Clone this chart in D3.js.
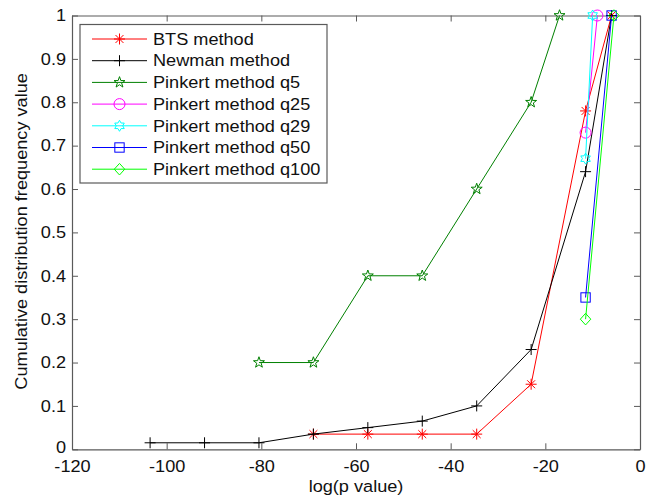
<!DOCTYPE html>
<html>
<head>
<meta charset="utf-8">
<script src="https://cdn.jsdelivr.net/npm/d3@7"></script>
<style>
  html, body { margin: 0; padding: 0; background: #fff; }
  svg { display: block; font-family: Arial, "Liberation Sans", sans-serif; }
</style>
</head>
<body>
<svg id="chart" width="655" height="499"></svg>
<script>
// Cumulative distribution of log(p value) for each detection method
const btsX = [-69, -57.5, -46, -34.5, -23, -11.5, -6];
const btsY = [0.035, 0.035, 0.035, 0.035, 0.15, 0.78, 1];

const newmanX = [-103.5, -92, -80.5, -69, -57.5, -46, -34.5, -23, -11.5, -6];
const newmanY = [0.015, 0.015, 0.015, 0.035, 0.05, 0.065, 0.1, 0.23, 0.64, 1];

const q5X = [-80.5, -69, -57.5, -46, -34.5, -23, -17];
const q5Y = [0.2, 0.2, 0.4, 0.4, 0.6, 0.8, 1];

const q25X = [-11.5, -9];
const q25Y = [0.73, 1];

const q29X = [-11.5, -10];
const q29Y = [0.67, 1];

const q50X = [-11.5, -6];
const q50Y = [0.35, 1];

const q100X = [-11.5, -5.5];
const q100Y = [0.30, 1];

const xTicks = [-120, -100, -80, -60, -40, -20, 0];
const yTicks = [0, 0.1, 0.2, 0.3, 0.4, 0.5, 0.6, 0.7, 0.8, 0.9, 1];

const series = [
  { name: "BTS method",         xs: btsX,    ys: btsY,    color: "#ff0000", marker: "asterisk" },
  { name: "Newman method",      xs: newmanX, ys: newmanY, color: "#000000", marker: "plus" },
  { name: "Pinkert method q5",  xs: q5X,     ys: q5Y,     color: "#008000", marker: "pentagram" },
  { name: "Pinkert method q25", xs: q25X,    ys: q25Y,    color: "#ff00ff", marker: "circle" },
  { name: "Pinkert method q29", xs: q29X,    ys: q29Y,    color: "#00ffff", marker: "hexagram" },
  { name: "Pinkert method q50", xs: q50X,    ys: q50Y,    color: "#0000ff", marker: "square" },
  { name: "Pinkert method q100",xs: q100X,   ys: q100Y,   color: "#00ff00", marker: "diamond" }
];

const svg = d3.select("#chart");
const plotL = 72, plotR = 640, plotT = 15.5, plotB = 449.3;
const axisColor = "#5a5a5a";
const textColor = "#111";
const fontSize = 16.5;
const widen = 1.1;   // horizontal text stretch

const x = d3.scaleLinear().domain([-120, 0]).range([plotL, plotR]);
const y = d3.scaleLinear().domain([0, 1]).range([plotB, plotT]);

// Axes box with inward ticks on all four sides
const tickLen = 6;
const g = svg.append("g");

g.append("g").attr("transform", `translate(0,${plotB})`)
  .call(d3.axisBottom(x).tickValues(xTicks).tickSizeInner(-tickLen).tickSizeOuter(0).tickPadding(11).tickFormat(d => String(d)));
g.append("g").attr("transform", `translate(0,${plotT})`)
  .call(d3.axisTop(x).tickValues(xTicks).tickSizeInner(-tickLen).tickSizeOuter(0).tickFormat(""));
const yAxisL = g.append("g").attr("transform", `translate(${plotL},0)`)
  .call(d3.axisLeft(y).tickValues(yTicks).tickSizeInner(-tickLen).tickSizeOuter(0).tickFormat(d => d === 0 ? "0" : d === 1 ? "1" : d3.format(".1f")(d)));
g.append("g").attr("transform", `translate(${plotR},0)`)
  .call(d3.axisRight(y).tickValues(yTicks).tickSizeInner(-tickLen).tickSizeOuter(0).tickFormat(""));

g.selectAll(".domain").attr("stroke", axisColor).attr("stroke-width", 1.2);
g.selectAll(".tick line").attr("stroke", axisColor);
g.selectAll(".tick text").attr("fill", textColor)
  .style("font-size", fontSize + "px")
  .style("font-family", "Arial, 'Liberation Sans', sans-serif")
  .attr("transform", `scale(${widen},1)`);
yAxisL.selectAll(".tick text").attr("x", -6 / widen);
// lift the origin label slightly so it clears the -120 label below it
yAxisL.selectAll(".tick").filter(d => d === 0).select("text").attr("dy", "0.2em");

// Axis titles
svg.append("text")
  .attr("transform", `translate(${(plotL + plotR) / 2},492) scale(${widen},1)`)
  .attr("text-anchor", "middle").attr("fill", textColor)
  .style("font-size", fontSize + "px")
  .text("log(p value)");
svg.append("text")
  .attr("transform", `translate(27,${(plotT + plotB) / 2 - 1}) rotate(-90) scale(${widen},1)`)
  .attr("text-anchor", "middle").attr("fill", textColor)
  .style("font-size", fontSize + "px")
  .text("Cumulative distribution frequency value");

// Marker shapes
function starPoints(n, rOut, rIn) {
  const pts = [];
  for (let i = 0; i < 2 * n; i++) {
    const r = i % 2 === 0 ? rOut : rIn;
    const a = -Math.PI / 2 + i * Math.PI / n;
    pts.push([r * Math.cos(a), r * Math.sin(a)]);
  }
  return pts;
}
function drawMarker(sel, type, cx, cy, color) {
  const m = sel.append("g").attr("transform", `translate(${cx},${cy})`)
    .attr("fill", "none").attr("stroke", color).attr("stroke-width", 1);
  const r = 5.5;
  if (type === "plus") {
    m.append("path").attr("d", `M${-r},0H${r}M0,${-r}V${r}`);
  } else if (type === "asterisk") {
    const d = r * 0.72;
    m.append("path").attr("d", `M${-r},0H${r}M0,${-r}V${r}M${-d},${-d}L${d},${d}M${-d},${d}L${d},${-d}`);
  } else if (type === "circle") {
    m.append("circle").attr("r", r);
  } else if (type === "square") {
    m.append("rect").attr("x", -r * 0.85).attr("y", -r * 0.85).attr("width", r * 1.7).attr("height", r * 1.7);
  } else if (type === "diamond") {
    m.append("path").attr("d", `M0,${-r * 1.05}L${r * 0.95},0L0,${r * 1.05}L${-r * 0.95},0Z`);
  } else if (type === "pentagram") {
    m.append("polygon").attr("points", starPoints(5, r * 1.05, r * 0.42).join(" "));
  } else if (type === "hexagram") {
    m.append("polygon").attr("points", starPoints(6, r, r * 0.58).join(" "));
  }
}

// Series lines and markers
const line = d3.line().x(d => x(d[0])).y(d => y(d[1]));
const plot = svg.append("g");
series.forEach(s => {
  const pts = s.xs.map((v, i) => [v, s.ys[i]]);
  plot.append("path").datum(pts).attr("d", line)
    .attr("fill", "none").attr("stroke", s.color).attr("stroke-width", 1);
  pts.forEach(p => drawMarker(plot, s.marker, x(p[0]), y(p[1]), s.color));
});

// Legend
const lg = svg.append("g");
const lgX = 80, lgY = 24.5, lgW = 247, lgH = 158.5;
lg.append("rect").attr("x", lgX).attr("y", lgY).attr("width", lgW).attr("height", lgH)
  .attr("fill", "#fff").attr("stroke", axisColor).attr("stroke-width", 1.2);
series.forEach((s, i) => {
  const cy = 39 + i * 21.7;
  lg.append("line").attr("x1", 92).attr("x2", 147).attr("y1", cy).attr("y2", cy)
    .attr("stroke", s.color).attr("stroke-width", 1);
  drawMarker(lg, s.marker, 119.5, cy, s.color);
  lg.append("text").attr("transform", `translate(153,${cy}) scale(${widen},1)`)
    .attr("dy", "0.35em")
    .attr("fill", textColor).style("font-size", fontSize + "px").text(s.name);
});
</script>
</body>
</html>
